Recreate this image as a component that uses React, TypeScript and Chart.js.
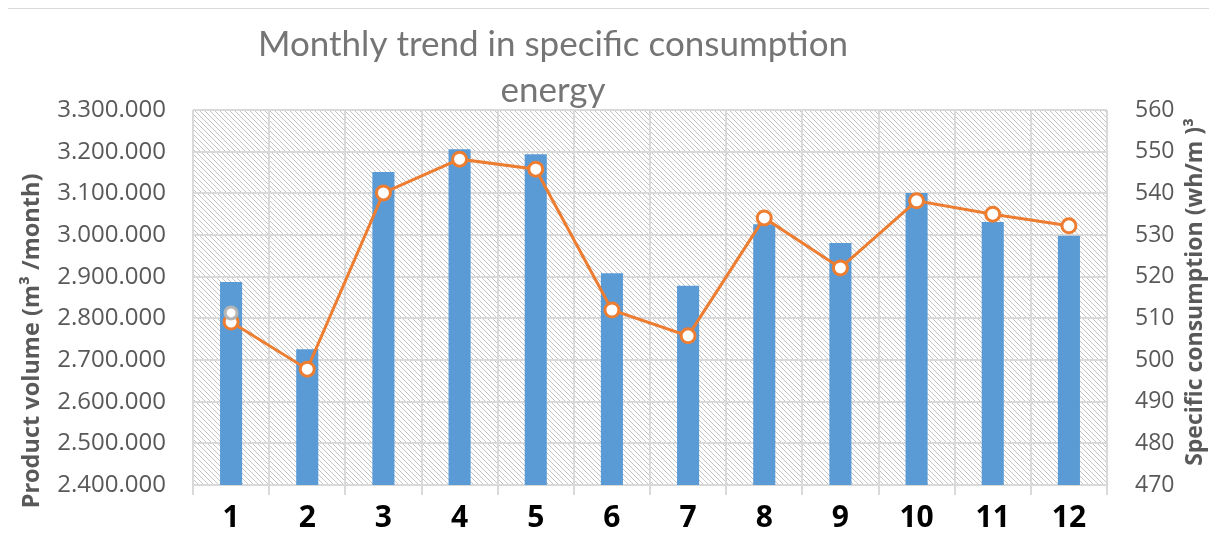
import React, { useEffect, useRef } from 'react';
import { Chart, registerables } from 'chart.js';

Chart.register(...registerables);

const months = ['1', '2', '3', '4', '5', '6', '7', '8', '9', '10', '11', '12'];
const productVolume = [2887000, 2726000, 3151000, 3206000, 3194000, 2908000, 2878000, 3026000, 2981000, 3101000, 3031000, 2998000];
const specificConsumption = [509.1, 497.8, 540.1, 548.2, 545.8, 512.0, 505.8, 534.1, 522.1, 538.2, 535.0, 532.2];
const greyMarker = [511.3, null, null, null, null, null, null, null, null, null, null, null];
const leftTicks = [2400000, 2500000, 2600000, 2700000, 2800000, 2900000, 3000000, 3100000, 3200000, 3300000];
const rightTicks = [470, 480, 490, 500, 510, 520, 530, 540, 550, 560];
const titleLines = ['Monthly trend in specific consumption', 'energy'];
const leftTitle = 'Product volume (m\u00B3 /month)';
const rightTitle = 'Specific consumption (wh/m )\u00B3';

const fmt = (v: number) => String(Math.round(v)).replace(/\B(?=(\d{3})+(?!\d))/g, '.');

function makeHatch(ctx: CanvasRenderingContext2D) {
  const s = 5;
  const c = document.createElement('canvas');
  c.width = s;
  c.height = s;
  const g = c.getContext('2d')!;
  g.fillStyle = '#ffffff';
  g.fillRect(0, 0, s, s);
  g.strokeStyle = '#c4c4c4';
  g.lineWidth = 1;
  g.beginPath();
  for (const k of [-1, 0, 1]) {
    g.moveTo(k * s - 1, -1);
    g.lineTo(k * s + s + 1, s + 1);
  }
  g.stroke();
  return ctx.createPattern(c, 'repeat');
}

const decorPlugin = {
  id: 'decor',
  beforeDraw(chart: any) {
    const { ctx, chartArea } = chart;
    const pat = makeHatch(ctx);
    ctx.save();
    ctx.fillStyle = '#ffffff';
    ctx.fillRect(0, 0, chart.width, chart.height);
    if (pat) {
      ctx.fillStyle = pat;
      ctx.fillRect(chartArea.left, chartArea.top, chartArea.right - chartArea.left, chartArea.bottom - chartArea.top);
    }
    ctx.restore();
  },
  afterDraw(chart: any) {
    const { ctx } = chart;
    ctx.save();
    ctx.fillStyle = '#757575';
    ctx.font = '35px Lato';
    ctx.textAlign = 'center';
    ctx.textBaseline = 'alphabetic';
    ctx.fillText(titleLines[0], 545, 47);
    ctx.fillText(titleLines[1], 545, 93);

    ctx.fillStyle = '#595959';
    ctx.font = 'bold 23.5px "Open Sans"';
    ctx.textBaseline = 'middle';
    ctx.translate(24, 332);
    ctx.rotate(-Math.PI / 2);
    ctx.fillText(leftTitle, 0, 0);
    ctx.restore();

    ctx.save();
    ctx.fillStyle = '#595959';
    ctx.font = 'bold 23px "Open Sans"';
    ctx.textAlign = 'center';
    ctx.textBaseline = 'middle';
    ctx.translate(1187, 283);
    ctx.rotate(-Math.PI / 2);
    ctx.fillText(rightTitle, 0, 0);
    ctx.restore();
  },
};

export default function App() {
  const ref = useRef<HTMLCanvasElement>(null);
  useEffect(() => {
    if (!ref.current) return;
    const chart = new Chart(ref.current, {
      type: 'bar',
      data: {
        labels: months,
        datasets: [
          {
            type: 'line',
            label: 'marker',
            data: greyMarker,
            yAxisID: 'y1',
            showLine: false,
            pointRadius: 6,
            pointBorderWidth: 3,
            pointBackgroundColor: '#ffffff',
            pointBorderColor: '#b5b5b5',
            order: 1,
          } as any,
          {
            type: 'line',
            label: 'Specific consumption',
            data: specificConsumption,
            yAxisID: 'y1',
            borderColor: '#ed7d31',
            borderWidth: 3,
            pointRadius: 7,
            pointBorderWidth: 3,
            pointBackgroundColor: '#ffffff',
            pointBorderColor: '#ed7d31',
            tension: 0,
            order: 2,
          } as any,
          {
            type: 'bar',
            label: 'Product volume',
            data: productVolume,
            yAxisID: 'y',
            backgroundColor: '#5b9bd5',
            categoryPercentage: 1,
            barPercentage: 0.29,
            order: 3,
          } as any,
        ],
      },
      options: {
        animation: false,
        responsive: false,
        layout: { padding: { top: 101, left: 0, right: 0, bottom: 0 } },
        plugins: { legend: { display: false }, tooltip: { enabled: false }, title: { display: false } },
        scales: {
          x: {
            grid: { offset: true, color: '#d9d9d9', lineWidth: 2, tickLength: 10, drawTicks: true },
            border: { display: false },
            ticks: {
              color: '#000000',
              font: { family: 'Open Sans', size: 30, weight: 'bold' },
              padding: 5,
              maxRotation: 0,
              autoSkip: false,
            },
            afterFit: (s: any) => {
              s.height = 56;
            },
          },
          y: {
            position: 'left',
            min: 2400000,
            max: 3300000,
            afterBuildTicks: (s: any) => {
              s.ticks = leftTicks.map((v) => ({ value: v }));
            },
            grid: { color: '#d9d9d9', lineWidth: 2, drawTicks: false },
            border: { display: false },
            ticks: {
              color: '#595959',
              font: { family: 'Open Sans', size: 24 },
              padding: 27,
              callback: (v: any) => fmt(Number(v)),
            },
            afterFit: (s: any) => {
              s.width = 185;
            },
          },
          y1: {
            position: 'right',
            min: 470,
            max: 560,
            afterBuildTicks: (s: any) => {
              s.ticks = rightTicks.map((v) => ({ value: v }));
            },
            grid: { drawOnChartArea: false, drawTicks: false },
            border: { display: false },
            ticks: {
              color: '#595959',
              font: { family: 'Open Sans', size: 23 },
              padding: 28,
            },
            afterFit: (s: any) => {
              s.width = 102;
            },
          },
        },
      } as any,
      plugins: [decorPlugin],
    });
    return () => chart.destroy();
  }, []);

  return (
    <div style={{ marginLeft: -1, borderTop: '1px solid #d9d9d9', borderLeft: '1px solid #d9d9d9' }}>
      <canvas ref={ref} width={1201} height={532} style={{ display: 'block', width: 1201, height: 532 }} />
    </div>
  );
}
